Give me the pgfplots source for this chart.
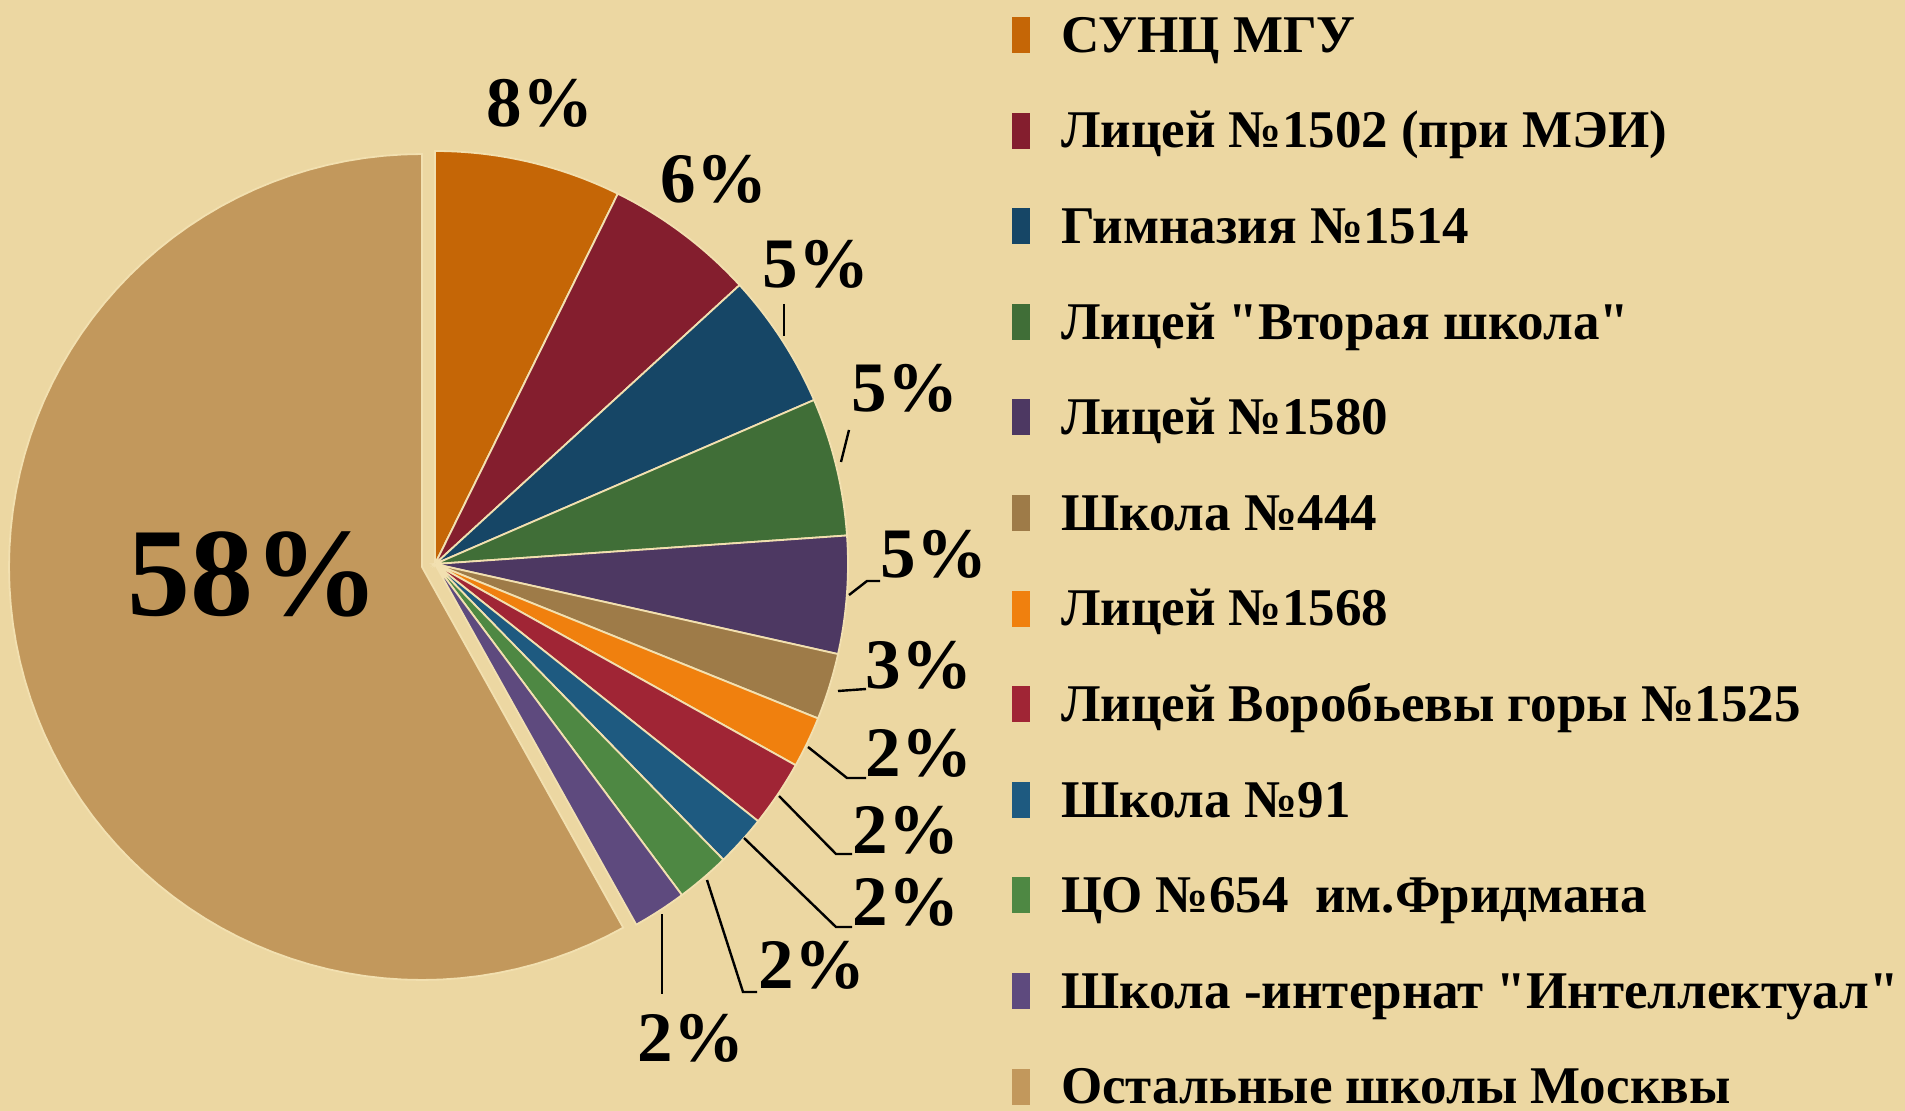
\documentclass[border=0pt]{standalone}
\usepackage{pgfplots}
\pgfplotsset{compat=1.18}
\usepackage{fontspec}
\setmainfont{Liberation Serif}[Ligatures=TeXOff]
\definecolor{bgcol}{RGB}{236,215,162}
\definecolor{sepcol}{RGB}{242,224,176}
\definecolor{c1}{RGB}{197,102,6}
\definecolor{c2}{RGB}{132,30,46}
\definecolor{c3}{RGB}{22,70,102}
\definecolor{c4}{RGB}{64,110,55}
\definecolor{c5}{RGB}{77,56,98}
\definecolor{c6}{RGB}{158,123,72}
\definecolor{c7}{RGB}{240,128,14}
\definecolor{c8}{RGB}{160,37,53}
\definecolor{c9}{RGB}{30,90,128}
\definecolor{c10}{RGB}{78,136,67}
\definecolor{c11}{RGB}{94,74,126}
\definecolor{c12}{RGB}{194,152,92}
% #1 start (cumulative %), #2 end (cumulative %), #3 colour, #4,#5 centre (px)
\newcommand{\slice}[5]{%
  \addplot[fill=#3, draw=sepcol, line width=0.9pt, domain=3.6*#1:3.6*#2, samples=80, variable=\t]
    ({#4+413*sin(\t)},{#5-413*cos(\t)}) -- (#4,#5) -- cycle;}
\newcommand{\pct}[4]{\node[font=\bfseries\fontsize{#4}{#4}\selectfont, inner sep=0pt] at (axis cs:#1,#2) {#3};}
\begin{document}
\begin{tikzpicture}
\fill[bgcol] (0,0) rectangle (952.5pt,555.5pt);
\begin{axis}[
  at={(0,0)}, anchor=south west,
  width=952.5pt, height=555.5pt, scale only axis,
  xmin=0, xmax=1905, ymin=0, ymax=1111, y dir=reverse,
  hide axis, clip=false,
  legend image code/.code={\fill[#1,draw=none] (0pt,-9pt) rectangle (9pt,9pt); \path[draw=none,fill=none] (0pt,0pt) -- (24.5pt,0pt);},
  legend style={at={(axis cs:1012,-12.8)}, anchor=north west, draw=none, fill=none,
    inner sep=0pt, outer sep=0pt, row sep=0pt,
    font=\bfseries\fontsize{26.5}{26.5}\selectfont,
    cells={anchor=west},
    nodes={inner sep=0pt, text height=32.5pt, text depth=15.3pt}},
]
% shares (%): 7.3, 5.9, 5.3, 5.4, 4.6, 2.6, 2.0, 2.6, 2.0, 2.1, 2.1, 58.1
\slice{0}{7.3}{c1}{435}{564}
\addlegendentry{СУНЦ МГУ}
\slice{7.3}{13.2}{c2}{435}{564}
\addlegendentry{Лицей №1502 (при МЭИ)}
\slice{13.2}{18.5}{c3}{435}{564}
\addlegendentry{Гимназия №1514}
\slice{18.5}{23.9}{c4}{435}{564}
\addlegendentry{Лицей "Вторая школа"}
\slice{23.9}{28.5}{c5}{435}{564}
\addlegendentry{Лицей №1580}
\slice{28.5}{31.1}{c6}{435}{564}
\addlegendentry{Школа №444}
\slice{31.1}{33.1}{c7}{435}{564}
\addlegendentry{Лицей №1568}
\slice{33.1}{35.7}{c8}{435}{564}
\addlegendentry{Лицей Воробьевы горы №1525}
\slice{35.7}{37.7}{c9}{435}{564}
\addlegendentry{Школа №91}
\slice{37.7}{39.8}{c10}{435}{564}
\addlegendentry{ЦО №654\ \ им.Фридмана}
\slice{39.8}{41.9}{c11}{435}{564}
\addlegendentry{Школа -интернат "Интеллектуал"}
\slice{41.9}{100}{c12}{422}{567}
\addlegendentry{Остальные школы Москвы}
% leader lines
\addplot[forget plot, black, line width=1.2pt, no marks] coordinates {(784,304) (784,336)};
\addplot[forget plot, black, line width=1.2pt, no marks] coordinates {(849,430) (841,462)};
\addplot[forget plot, black, line width=1.2pt, no marks] coordinates {(849,595) (867,581) (880,581)};
\addplot[forget plot, black, line width=1.2pt, no marks] coordinates {(838,691) (866,689)};
\addplot[forget plot, black, line width=1.2pt, no marks] coordinates {(808,747) (847,778) (866,778)};
\addplot[forget plot, black, line width=1.2pt, no marks] coordinates {(779,796) (836,854) (852,854)};
\addplot[forget plot, black, line width=1.2pt, no marks] coordinates {(744,838) (836,927) (852,927)};
\addplot[forget plot, black, line width=1.2pt, no marks] coordinates {(707,880) (743,992) (757,992)};
\addplot[forget plot, black, line width=1.2pt, no marks] coordinates {(662,914) (662,994)};
% labels
\pct{540}{103}{8\%}{35.5}
\pct{714}{179}{6\%}{35.5}
\pct{816}{264}{5\%}{35.5}
\pct{905}{388}{5\%}{35.5}
\pct{934}{554}{5\%}{35.5}
\pct{919}{665}{3\%}{35.5}
\pct{919}{753}{2\%}{35.5}
\pct{906}{830}{2\%}{35.5}
\pct{906}{902}{2\%}{35.5}
\pct{812}{965}{2\%}{35.5}
\pct{691}{1038}{2\%}{35.5}
\pct{253}{574}{58\%}{63}
\end{axis}
\pgfresetboundingbox
\useasboundingbox (0,0) rectangle (952.5pt,555.5pt);
\end{tikzpicture}
\end{document}
